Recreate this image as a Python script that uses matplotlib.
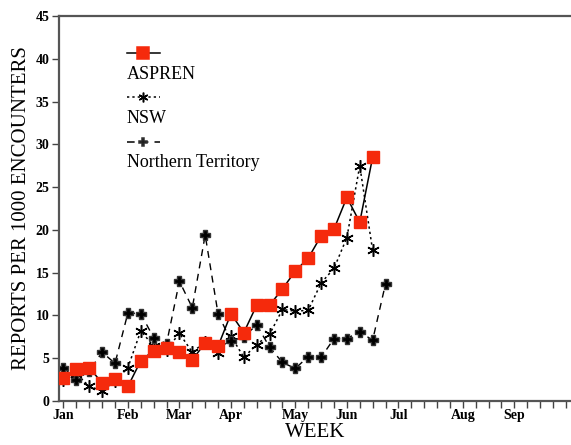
import numpy as np
import matplotlib
matplotlib.use("Agg")
import matplotlib.pyplot as plt
from matplotlib.lines import Line2D

# weekly rates, week 0 = first week of January
aspren = [2.7, 3.7, 3.9, 2.1, 2.6, 1.7, 4.7, 5.9, 6.2, 5.7, 4.8, 6.8, 6.4,
          10.2, 8.0, 11.2, 11.2, 13.1, 15.2, 16.7, 19.3, 20.1, 23.8, 20.9, 28.5]
nsw = [2.4, 3.2, 1.7, 1.2, 2.3, 3.9, 8.2, 6.4, 6.0, 7.9, 5.7, 6.9, 5.6,
       7.6, 5.1, 6.6, 7.8, 10.7, 10.5, 10.6, 13.8, 15.5, 19.1, 27.5, 17.6]
nt = [3.9, 2.5, 3.5, 5.7, 4.4, 10.3, 10.2, 7.4, 6.7, 14.0, 10.9, 19.4, 10.2,
      7.0, 7.5, 8.9, 6.3, 4.5, 3.8, 5.2, 5.1, 7.3, 7.3, 8.1, 7.1, 13.7]

months = ["Jan", "Feb", "Mar", "Apr", "May", "Jun", "Jul", "Aug", "Sep"]
month_week = [0, 5, 9, 13, 18, 22, 26, 31, 35]

serif = ["Liberation Serif", "DejaVu Serif"]
plt.rcParams["font.family"] = serif

fig = plt.figure(figsize=(5.71, 4.45), dpi=100)
ax = fig.add_axes([0.1033, 0.0989, 0.8967, 0.865])

red = "#f52a0c"
ast = (6, 2, 0)

ax.plot(np.arange(len(aspren)), aspren, "-", color="k", lw=1.1,
        marker="s", ms=9, mfc=red, mec=red, zorder=3)
ax.plot(np.arange(len(nsw)), nsw, ls=(0, (1.5, 2)), color="k", lw=1.1,
        marker=ast, ms=9, mew=1.1, mec="k", zorder=2)
ax.plot(np.arange(len(nt)), nt, ls=(0, (5, 4)), color="k", lw=1.0,
        marker="P", ms=7, mfc="k", mec="#333", zorder=2)

ax.set_xlim(-0.35, 39.4)
ax.set_ylim(0, 45)
ax.set_yticks(np.arange(0, 46, 5))
ax.set_yticklabels([str(v) for v in range(0, 46, 5)], fontweight="bold", fontsize=10)

weeks = np.arange(0, 40)
ax.set_xticks(weeks)
labs = [""] * len(weeks)
for m, w in zip(months, month_week):
    labs[w] = m
ax.set_xticklabels(labs, fontweight="bold", fontsize=10)
ax.tick_params(axis="both", direction="out", length=5, width=1, color="#444", pad=2)
ax.tick_params(axis="x", pad=0.5)

for s in ["left", "bottom", "top"]:
    ax.spines[s].set_linewidth(1.6)
    ax.spines[s].set_color("#555")
ax.spines["right"].set_visible(False)

ax.set_xlabel("WEEK", fontsize=15, labelpad=1)
ax.set_ylabel("REPORTS PER 1000 ENCOUNTERS", fontsize=15, labelpad=3)

# legend: sample line above each label
entries = [
    dict(ls="-", marker="s", ms=9, mfc=red, mec=red, label="ASPREN"),
    dict(ls=(0, (1.5, 2)), marker=ast, ms=7, mfc="k", mec="k", label="NSW"),
    dict(ls=(0, (5, 4)), marker="P", ms=6, mfc="k", mec="#333", label="Northern Territory"),
]
y0 = 0.903
for k, e in enumerate(entries):
    y = y0 - k * 0.1145
    ax.add_line(Line2D([0.132, 0.197], [y, y], transform=ax.transAxes, color="k",
                       lw=1.1, ls=e["ls"], marker=None))
    ax.add_line(Line2D([0.164], [y], transform=ax.transAxes, color="k", ls="none",
                       marker=e["marker"], ms=e["ms"], mfc=e["mfc"], mec=e["mec"], mew=1.1))
    ax.text(0.132, y - 0.055, e["label"], transform=ax.transAxes, fontsize=13,
            ha="left", va="center")

fig.savefig("out.png", dpi=100)
